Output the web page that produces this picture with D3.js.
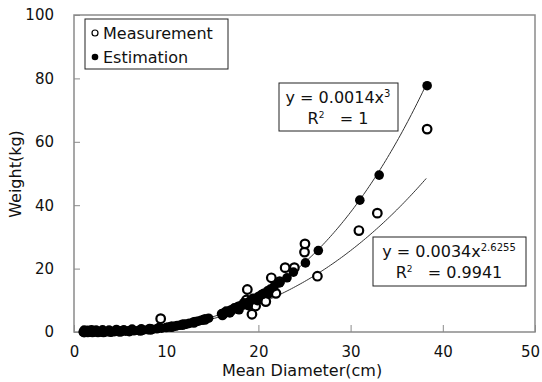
<!DOCTYPE html>
<html>
<head>
<meta charset="utf-8">
<script src="https://cdn.jsdelivr.net/npm/d3@7"></script>
<style>
  body { margin: 0; background: #fff; }
  text { font-family: "DejaVu Sans", sans-serif; fill: #111; white-space: pre; }
</style>
</head>
<body>
<svg width="542" height="382"></svg>
<script>
// estimation (filled) points
var estX = [1.0, 1.2, 1.4, 1.6, 1.8, 2.0, 2.2, 2.5, 2.8, 3.0, 3.3, 3.6, 4.0, 4.4, 4.8, 5.2, 5.6, 6.0, 6.5, 7.0,
  7.5, 8.0, 8.5, 9.0, 9.5, 10.0, 10.5, 11.0, 11.5, 12.0, 12.5, 13.0, 13.5, 14.0, 14.6, 16.0, 16.3, 16.6, 17.0, 17.3,
  17.6, 18.0, 18.3, 18.6, 19.0, 19.3, 19.6, 20.0, 20.3, 20.6, 21.0, 21.3, 21.7, 22.3, 23.1, 23.8, 25.1, 26.5, 31.0, 33.1, 38.3,
  1.1, 1.5, 1.9, 2.4, 3.1, 3.8, 4.6, 5.4, 6.3, 7.3, 8.2, 9.2, 10.2, 11.2, 12.2, 13.2, 13.8, 16.1, 16.5, 16.9, 17.4, 17.9,
  18.4, 18.9, 19.4, 19.9, 20.5, 21.1];
var estY = [0.00, 0.00, 0.00, 0.01, 0.01, 0.01, 0.02, 0.02, 0.03, 0.04, 0.05, 0.07, 0.09, 0.12, 0.16, 0.20, 0.25, 0.30, 0.38, 0.48,
  0.59, 0.72, 0.86, 1.02, 1.20, 1.40, 1.62, 1.86, 2.13, 2.42, 2.73, 3.08, 3.44, 3.84, 4.36, 5.73, 6.06, 6.40, 6.88, 7.25,
  7.63, 8.16, 8.58, 9.01, 9.60, 10.07, 10.54, 11.2, 11.71, 12.24, 12.97, 13.53, 14.31, 15.5, 17.1, 18.9, 21.8, 25.7, 41.6, 49.5, 77.7,
  0.6, 0.5, 0.7, 0.6, 0.7, 0.6, 0.8, 0.7, 0.9, 1.0, 1.1, 1.4, 1.6, 2.0, 2.5, 3.3, 3.7, 5.2, 6.6, 6.0, 7.6, 7.0,
  9.2, 8.3, 10.6, 9.9, 12.0, 12.0];

// measurement (open) points
var measX = [1.1, 1.5, 2.0, 2.6, 3.2, 4.0, 5.0, 6.0, 7.2, 8.3, 9.4, 10.6, 11.8, 13.0, 14.2, 16.2, 17.0, 17.8, 18.7, 18.8,
  19.3, 19.7, 20.2, 20.8, 21.4, 21.9, 22.3, 22.9, 23.9, 25.0, 25.05, 26.4, 30.9, 32.9, 38.3];
var measY = [0.00, 0.01, 0.01, 0.03, 0.05, 0.10, 0.18, 0.30, 0.52, 0.80, 4.2, 1.70, 2.35, 3.05, 4.00, 5.80, 6.70, 7.90, 10.1, 13.4,
  5.6, 8.2, 10.8, 9.6, 17.1, 12.2, 15.9, 20.3, 20.3, 25.2, 27.8, 17.6, 32.0, 37.5, 64.0];

// fitted trendlines y = a * x^b
var fitA = [0.0014, 0.0034];
var fitB = [3, 2.6255];
var fitStart = 1, fitEnd = 38.3;

var xTicks = [0, 10, 20, 30, 40, 50];
var yTicks = [0, 20, 40, 60, 80, 100];

var svg = d3.select("svg");
var margin = {left: 74, right: 7, top: 15, bottom: 50};
var W = 542, H = 382;

var x = d3.scaleLinear().domain([0, 50]).range([margin.left, W - margin.right]);
var y = d3.scaleLinear().domain([0, 100]).range([H - margin.bottom, margin.top]);

// frame
svg.append("rect")
  .attr("x", x(0)).attr("y", y(100))
  .attr("width", x(50) - x(0)).attr("height", y(0) - y(100))
  .style("fill", "none").style("stroke", "#8a8a8a").style("stroke-width", 1.5);

var xAxis = svg.append("g")
  .attr("transform", "translate(0," + y(0) + ")")
  .call(d3.axisBottom(x).tickValues(xTicks).tickSize(-6).tickPadding(14));
var yAxis = svg.append("g")
  .attr("transform", "translate(" + x(0) + ",0)")
  .call(d3.axisLeft(y).tickValues(yTicks).tickSize(-6).tickPadding(20));
[xAxis, yAxis].forEach(function(a){
  a.select(".domain").remove();
  a.selectAll(".tick line").style("stroke", "#8a8a8a");
  a.selectAll(".tick text").style("font-family", "DejaVu Sans").style("font-size", "15px").style("fill", "#111");
});
xAxis.selectAll(".tick line").attr("y2", -7);
// keep the last label inside the page
xAxis.selectAll(".tick text").filter(function(d){ return d === 50; }).attr("dx", -5);

// axis titles
svg.append("text")
  .attr("x", 302).attr("y", 376)
  .attr("text-anchor", "middle")
  .style("font-size", "16px")
  .text("Mean Diameter(cm)");
svg.append("text")
  .attr("transform", "translate(21,174) rotate(-90)")
  .attr("text-anchor", "middle")
  .style("font-size", "16px")
  .text("Weight(kg)");

// trendlines
var line = d3.line().x(function(d){ return x(d[0]); }).y(function(d){ return y(d[1]); });
fitA.forEach(function(a, i){
  var pts = d3.range(fitStart, fitEnd + 0.001, 0.2).map(function(v){ return [v, a * Math.pow(v, fitB[i])]; });
  svg.append("path")
    .attr("d", line(pts))
    .style("fill", "none")
    .style("stroke", "#333")
    .style("stroke-width", 1);
});

// points
var est = estX.map(function(v, i){ return [v, estY[i]]; });
var meas = measX.map(function(v, i){ return [v, measY[i]]; });

svg.append("g").selectAll("circle")
  .data(meas)
  .enter().append("circle")
  .attr("cx", function(d){ return x(d[0]); })
  .attr("cy", function(d){ return y(d[1]); })
  .attr("r", 4.3)
  .style("fill", "white")
  .style("stroke", "black")
  .style("stroke-width", 2.2);

svg.append("g").selectAll("circle")
  .data(est)
  .enter().append("circle")
  .attr("cx", function(d){ return x(d[0]); })
  .attr("cy", function(d){ return y(d[1]); })
  .attr("r", 4.8)
  .style("fill", "black");

// legend
var lg = svg.append("g");
lg.append("rect").attr("x", 85).attr("y", 19).attr("width", 143).attr("height", 50)
  .style("fill", "white").style("stroke", "#222").style("stroke-width", 1);
lg.append("circle").attr("cx", 95).attr("cy", 33).attr("r", 3)
  .style("fill", "white").style("stroke", "black").style("stroke-width", 1.2);
lg.append("circle").attr("cx", 95).attr("cy", 57).attr("r", 3.3).style("fill", "black");
lg.append("text").attr("x", 103).attr("y", 39).style("font-size", "16px").text("Measurement");
lg.append("text").attr("x", 103).attr("y", 63).style("font-size", "16px").text("Estimation");

// equation boxes
function eqBox(bx, by, bw, bh, coef, expo, r2, cx) {
  var g = svg.append("g");
  g.append("rect").attr("x", bx).attr("y", by).attr("width", bw).attr("height", bh)
    .style("fill", "white").style("stroke", "#222").style("stroke-width", 1);
  var t = g.append("text").attr("x", cx).attr("y", by + 20).attr("text-anchor", "middle").style("font-size", "16px");
  t.append("tspan").text("y = " + coef + "x");
  t.append("tspan").attr("dy", -6).style("font-size", "10px").text(expo);
  var t2 = g.append("text").attr("x", cx).attr("y", by + 41).attr("text-anchor", "middle").style("font-size", "16px");
  t2.append("tspan").text("R");
  t2.append("tspan").attr("dy", -6).style("font-size", "9px").text("2");
  t2.append("tspan").attr("dy", 6).text("   = " + r2);
}
eqBox(279, 83, 119, 48, "0.0014", "3", "1", 338);
eqBox(373, 237, 153, 49, "0.0034", "2.6255", "0.9941", 449);
</script>
</body>
</html>
